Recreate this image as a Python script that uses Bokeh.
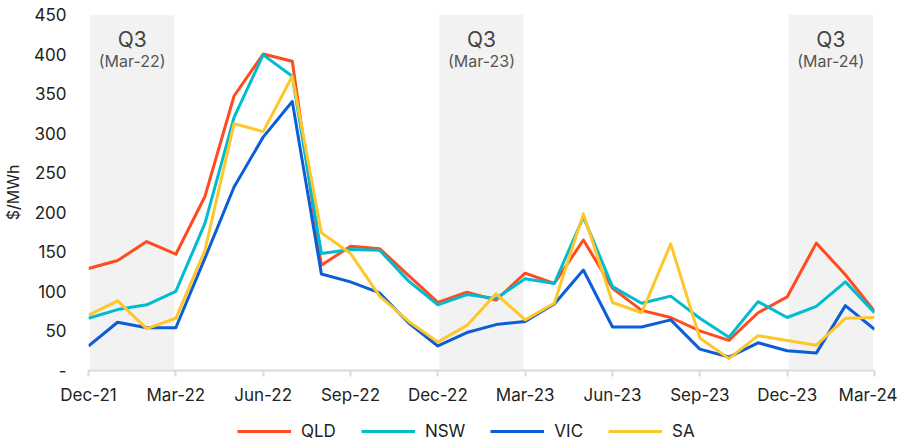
from bokeh.plotting import figure
from bokeh.layouts import column
from bokeh.models import (FixedTicker, Legend, LegendItem, BoxAnnotation, Label)
from bokeh.embed import file_html
from bokeh.resources import INLINE

months = ["Dec-21", "Jan-22", "Feb-22", "Mar-22", "Apr-22", "May-22", "Jun-22",
          "Jul-22", "Aug-22", "Sep-22", "Oct-22", "Nov-22", "Dec-22", "Jan-23",
          "Feb-23", "Mar-23", "Apr-23", "May-23", "Jun-23", "Jul-23", "Aug-23",
          "Sep-23", "Oct-23", "Nov-23", "Dec-23", "Jan-24", "Feb-24", "Mar-24"]

qld = [129, 139, 163, 147, 220, 347, 400, 391, 133, 157, 154, 120, 86, 99,
       89, 123, 110, 165, 104, 76, 67, 50, 38, 73, 93, 161, 121, 75]
nsw = [66, 77, 83, 100, 186, 320, 399, 372, 148, 153, 152, 113, 83, 96,
       91, 116, 110, 194, 106, 85, 94, 66, 42, 87, 67, 81, 112, 73]
vic = [31, 61, 54, 54, 142, 232, 295, 340, 122, 112, 98, 60, 31, 48,
       58, 62, 84, 127, 55, 55, 64, 27, 17, 35, 25, 22, 82, 52]
sa = [70, 88, 53, 66, 152, 312, 302, 372, 174, 148, 94, 62, 36, 57,
      97, 64, 85, 198, 86, 73, 160, 41, 15, 44, 38, 32, 66, 67]

tick_labels = ["Dec-21", "Mar-22", "Jun-22", "Sep-22", "Dec-22", "Mar-23",
               "Jun-23", "Sep-23", "Dec-23", "Mar-24"]
q3_periods = ["Mar-22", "Mar-23", "Mar-24"]
y_ticks = [0, 50, 100, 150, 200, 250, 300, 350, 400, 450]

series = [("QLD", qld, "#FF4B1F"), ("NSW", nsw, "#00BCD0"),
          ("VIC", vic, "#0B5ED7"), ("SA", sa, "#FFC629")]

FONT = "Inter"
x = list(range(len(months)))

p = figure(width=897, height=407, output_backend="svg",
           toolbar_location=None,
           x_range=(0, len(months) - 1), y_range=(0, 450),
           min_border_left=82, min_border_right=23, min_border_top=14,
           min_border_bottom=36)
p.outline_line_color = None
p.grid.grid_line_color = None
p.background_fill_color = "white"
p.border_fill_color = "white"

for q in q3_periods:
    i = months.index(q)
    p.add_layout(BoxAnnotation(left=i - 2.95, right=i - 0.05, bottom=2, top=450,
                               fill_color="#F2F2F2", fill_alpha=1.0,
                               line_color=None, level="underlay"))
    p.add_layout(Label(x=i - 1.5, y=418, text="Q3", text_align="center",
                       text_baseline="middle", text_font=FONT,
                       text_font_size="21px", text_color="#444444"))
    p.add_layout(Label(x=i - 1.5, y=391, text="(" + q + ")", text_align="center",
                       text_baseline="middle", text_font=FONT,
                       text_font_size="16px", text_color="#555555"))

renderers = []
for name, vals, col in series:
    r = p.line(x, vals, line_color=col, line_width=3, line_join="round")
    renderers.append(r)

# x axis
p.xaxis.ticker = FixedTicker(ticks=[months.index(t) for t in tick_labels])
p.xaxis.major_label_overrides = {months.index(t): t for t in tick_labels}
p.xaxis.axis_line_color = "#D9D9D9"
p.xaxis.axis_line_width = 2
p.xaxis.major_tick_line_color = "#D9D9D9"
p.xaxis.major_tick_line_width = 2
p.xaxis.major_tick_in = 0
p.xaxis.major_tick_out = 6
p.xaxis.minor_tick_line_color = None
p.xaxis.major_label_text_font = FONT
p.xaxis.major_label_text_font_size = "17px"
p.xaxis.major_label_text_color = "#222222"
p.xaxis.major_label_standoff = 8

# y axis
p.yaxis.ticker = FixedTicker(ticks=y_ticks)
p.yaxis.major_label_overrides = {0: "-"}
p.yaxis.axis_line_color = None
p.yaxis.major_tick_line_color = None
p.yaxis.minor_tick_line_color = None
p.yaxis.major_label_text_font = FONT
p.yaxis.major_label_text_font_size = "17px"
p.yaxis.major_label_text_color = "#222222"
p.yaxis.major_label_standoff = 16
p.yaxis.axis_label = "$/MWh"
p.yaxis.axis_label_text_font = FONT
p.yaxis.axis_label_text_font_size = "16px"
p.yaxis.axis_label_text_font_style = "normal"
p.yaxis.axis_label_text_color = "#222222"
p.yaxis.axis_label_standoff = 8

# legend in its own strip below the chart (swatches mirror the series styles)
lg = figure(width=897, height=34, output_backend="svg", toolbar_location=None,
            x_range=(0, 1), y_range=(0, 1), min_border=0)
lg.axis.visible = False
lg.grid.grid_line_color = None
lg.outline_line_color = None
items = []
for (name, vals, col), r in zip(series, renderers):
    swatch = lg.line(x=[-5, -4], y=[-5, -4], line_color=col, line_width=3)
    items.append(LegendItem(label=name, renderers=[swatch]))
legend = Legend(items=items, orientation="horizontal", location=(149, 0),
                border_line_color=None, background_fill_alpha=0,
                label_text_font=FONT, label_text_font_size="17px",
                label_text_color="#222222", glyph_width=54, glyph_height=16,
                spacing=25, padding=0, margin=0, label_standoff=10)
lg.add_layout(legend, "center")

layout = column(p, lg, spacing=0)
open("out.html", "w").write(file_html(layout, INLINE))
